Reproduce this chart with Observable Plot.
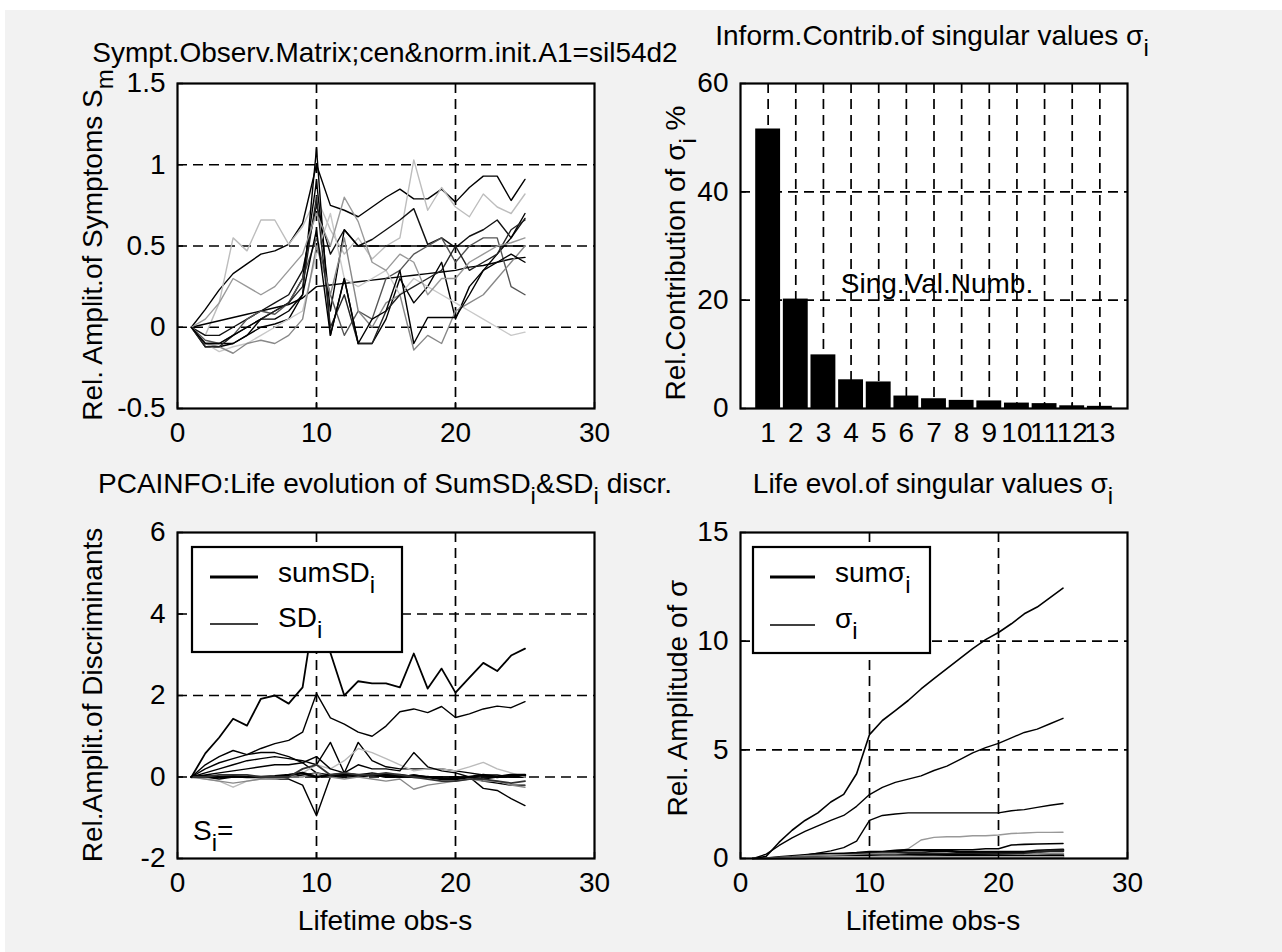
<!DOCTYPE html>
<html><head><meta charset="utf-8">
<script src="https://cdn.jsdelivr.net/npm/d3@7"></script>
<script src="https://cdn.jsdelivr.net/npm/@observablehq/plot@0.6"></script>
<style>
html,body{margin:0;padding:0;background:#fff;}
#fig{position:relative;width:1282px;height:952px;overflow:hidden;}
#bg{position:absolute;left:5px;top:10px;width:1277px;height:942px;background:#f2f2f2;}
#overlay{position:absolute;left:0;top:0;pointer-events:none;}
</style></head><body><div id="fig"><div id="bg"></div></div>
<script>
const FONT = "'Liberation Sans', Arial, Helvetica, sans-serif";
const obs = d3.range(1, 26);

// ---- Panel 1: symptom observation matrix
const sym01 = [0,0.11,0.23,0.33,0.39,0.45,0.47,0.51,0.64,1.0,0.75,0.72,0.68,0.74,0.8,0.85,0.79,0.79,0.85,0.77,0.86,0.93,0.93,0.78,0.91];
const sym02 = [0,-0.05,0.15,0.55,0.47,0.66,0.66,0.51,0.62,0.8,0.6,0.45,0.55,0.42,0.5,0.55,1.03,0.72,0.86,0.74,0.68,0.82,0.74,0.7,0.82];
const sym03 = [0,-0.05,-0.05,0,0.05,0.1,0.15,0.2,0.35,0.75,0.45,0.6,0.5,0.54,0.6,0.66,0.73,0.51,0.55,0.49,0.56,0.6,0.66,0.55,0.67];
const sym04 = [0,-0.1,-0.1,-0.1,-0.05,0.05,0.1,0.15,0.3,0.9,0.1,0.6,0.5,0.5,0.5,0.5,0.5,0.5,0.5,0.5,0.5,0.5,0.5,0.5,0.5];
const sym05 = [0,0.02,0.04,0.06,0.08,0.1,0.12,0.14,0.18,0.25,0.26,0.27,0.28,0.29,0.3,0.31,0.32,0.33,0.34,0.35,0.37,0.38,0.4,0.42,0.43];
const sym06 = [0,-0.12,-0.12,-0.1,-0.05,0,0.02,0.05,0.2,1.1,-0.05,0.3,-0.1,-0.1,0.05,0.3,0.15,0.25,0.4,0.05,0.25,0.35,0.45,0.55,0.7];
const sym07 = [0,-0.08,-0.1,-0.05,0.05,0.1,0.08,0.15,0.3,0.55,0.2,-0.05,0.1,0.05,0.3,0.35,0.45,0.5,0.55,0.4,0.5,0.55,0.55,0.25,0.2];
const sym08 = [0,-0.1,-0.15,-0.12,-0.1,-0.05,0,0.05,0.1,0.45,0.7,0.3,0.25,0.3,0.35,0.2,0.3,0.25,0.2,0.15,0.1,0.05,0,-0.05,-0.03];
const sym09 = [0,-0.1,-0.12,-0.16,-0.1,-0.08,-0.1,-0.05,0.05,0.5,0.2,0.55,0.1,0,0.15,0.2,-0.14,-0.05,-0.1,0.1,0.15,0.2,0.3,0.4,0.5];
const sym10 = [0,-0.12,-0.12,-0.05,0,0.05,0.1,0.15,0.25,0.8,0,0.2,-0.1,-0.1,0.1,0.2,0.25,0.3,0.35,0.5,0.35,0.4,0.45,0.6,0.66];
const sym11 = [0,0.05,0.15,0.3,0.25,0.2,0.25,0.35,0.45,0.7,0.5,0.8,0.65,0.4,0.35,0.45,0.4,0.2,0.3,0.3,0.4,0.45,0.5,0.52,0.55];
const sym12 = [0,-0.1,-0.1,-0.05,0,0.05,0.05,0.1,0.2,0.6,-0.05,0.3,-0.1,0.05,0.1,0.35,-0.1,0.06,0.06,0.06,0.2,0.35,0.4,0.45,0.4];
const symptoms = [sym01,sym02,sym03,sym04,sym05,sym06,sym07,sym08,sym09,sym10,sym11,sym12];
const symStroke = ["#000","#bdbdbd","#111","#000","#000","#000","#555","#c8c8c8","#888","#222","#999","#000"];

// ---- Panel 2: contribution of singular values (%)
const svNumber = d3.range(1, 14);
const svContribution = [51.6,20.2,9.9,5.3,4.9,2.3,1.8,1.5,1.4,1.0,0.9,0.5,0.4];

// ---- Panel 3: discriminants
const sumSD = [0,0.58,0.97,1.43,1.26,1.92,2.0,1.8,2.2,4.4,3.05,2.0,2.35,2.3,2.3,2.2,3.03,2.17,2.66,2.07,2.44,2.8,2.6,2.98,3.15];
const sd01 = [0,0.2,0.35,0.45,0.55,0.7,0.82,0.9,1.1,2.05,1.45,1.3,1.1,1.0,1.25,1.6,1.67,1.58,1.73,1.46,1.55,1.67,1.74,1.7,1.85];
const sd02 = [0,0.3,0.5,0.65,0.55,0.6,0.6,0.5,0.35,0.1,0,0.05,0,0.05,0,0,0.05,0,0,0,0,0,0,0,0];
const sd03 = [0,0.1,0.2,0.3,0.4,0.45,0.5,0.45,0.4,0.3,0.85,0.1,0.85,0.4,0.25,0.2,0.2,0.2,0.2,0.15,0.1,0.05,0.05,0,0];
const sd04 = [0,0,-0.05,0,0,0,-0.05,-0.05,-0.2,-0.95,0,0,0,0.05,0,0,0,0,0,0,0,-0.05,0,0,0];
const sd05 = [0,0,0,0,0,0,0,0,0.05,0.1,0.05,0.1,0.05,0.1,0.05,0,0.05,0,-0.05,-0.05,0,-0.28,-0.33,-0.53,-0.7];
const sd06 = [0,-0.05,-0.1,-0.25,-0.1,-0.05,-0.05,0,0.1,0.3,0.2,0.4,0.7,0.6,0.45,0.3,0.15,0.2,0.2,0.15,0.25,0.36,0.2,0.1,0];
const sd07 = [0,0.05,0.1,0.15,0.2,0.25,0.3,0.3,0.35,0.5,0.2,0.1,0.3,0.2,0.2,0.15,0.6,0.25,0.15,0.1,0,-0.1,-0.15,-0.2,-0.2];
const sd08 = [0,-0.05,-0.1,-0.15,-0.1,-0.05,-0.05,0,0,0.1,0,-0.05,0,-0.05,-0.1,-0.05,-0.3,-0.2,-0.15,-0.1,-0.05,-0.1,-0.1,-0.2,-0.25];
const sd09 = [0,0.02,0,0.02,0,0,0.02,0.05,0.1,0,0.05,0.05,0.05,0.05,0.05,0.05,0,0,-0.05,-0.05,0,0.05,0,0.05,0.05];
const sd10 = [0,0,0.05,0.05,0.05,0,0,0,0.2,0.3,0.05,0.1,0.05,0.05,0.1,0.05,0,-0.05,-0.1,-0.1,-0.05,-0.05,-0.1,-0.15,-0.1];
const discr = [sd01,sd02,sd03,sd04,sd05,sd06,sd07,sd08,sd09,sd10];
const discrStroke = ["#000","#000","#000","#000","#000","#bbb","#000","#888","#000","#333"];
const discrWidth = [1.4,1.4,1.4,1.4,1.4,1.4,1.4,1.4,2.6,1.8];

// ---- Panel 4: singular values
const sumSigma = [0,0.1,0.75,1.3,1.75,2.1,2.6,2.95,3.9,5.7,6.35,6.8,7.27,7.8,8.28,8.74,9.2,9.66,10.07,10.4,10.8,11.26,11.57,12.0,12.44];
const sigma01 = [0,0.2,0.6,0.95,1.25,1.5,1.75,1.98,2.4,2.94,3.27,3.5,3.65,3.8,4.05,4.25,4.55,4.86,5.1,5.3,5.55,5.8,5.95,6.2,6.45];
const sigma02 = [0,0.02,0.05,0.1,0.15,0.25,0.35,0.5,0.8,1.75,1.98,2.05,2.1,2.1,2.1,2.1,2.1,2.1,2.1,2.1,2.2,2.25,2.35,2.45,2.53];
const sigma03 = [0,0.02,0.05,0.08,0.1,0.12,0.12,0.15,0.15,0.2,0.25,0.3,0.45,0.85,0.97,1.0,1.0,1.05,1.05,1.08,1.15,1.17,1.2,1.2,1.21];
const sigma04 = [0,0.01,0.03,0.05,0.08,0.1,0.12,0.15,0.2,0.25,0.3,0.35,0.4,0.4,0.4,0.4,0.4,0.4,0.45,0.45,0.62,0.65,0.67,0.68,0.69];
const sigma05 = [0,0,0.05,0.1,0.15,0.2,0.2,0.22,0.25,0.3,0.3,0.35,0.38,0.38,0.35,0.35,0.3,0.3,0.3,0.3,0.3,0.3,0.35,0.38,0.4];
const sigma06 = [0,0.01,0.02,0.05,0.08,0.1,0.12,0.15,0.2,0.22,0.25,0.25,0.25,0.25,0.22,0.2,0.2,0.2,0.2,0.2,0.2,0.22,0.3,0.35,0.35];
const sigma07 = [0,0,0.02,0.05,0.1,0.12,0.15,0.15,0.15,0.18,0.2,0.2,0.15,0.1,0.1,0.1,0.1,0.1,0.1,0.12,0.12,0.15,0.2,0.2,0.2];
const sigma08 = [0,0,0.01,0.02,0.03,0.05,0.05,0.08,0.1,0.12,0.12,0.12,0.15,0.15,0.15,0.15,0.15,0.15,0.12,0.12,0.1,0.1,0.1,0.12,0.12];
const sigma09 = [0,0,0,0.01,0.02,0.03,0.04,0.05,0.05,0.06,0.08,0.08,0.08,0.07,0.07,0.06,0.06,0.06,0.05,0.05,0.05,0.05,0.06,0.06,0.06];
const sigmas = [sigma01,sigma02,sigma03,sigma04,sigma05,sigma06,sigma07,sigma08,sigma09];
const sigmaStroke = ["#000","#000","#999","#000","#000","#222","#888","#000","#aaa"];
const sigmaWidth = [1.4,1.4,1.4,1.6,2.6,2.6,2.6,2.6,2.6];

// ---- Tick values
const ticksLife = [0, 10, 20, 30];
const ticksP1y = [-0.5, 0, 0.5, 1, 1.5];
const ticksP2y = [0, 20, 40, 60];
const ticksP3y = [-2, 0, 2, 4, 6];
const ticksP4y = [0, 5, 10, 15];

const fig = document.getElementById("fig");
const series = vals => obs.map((x, i) => ({x, y: vals[i]}));
const gridStyle = {stroke: "black", strokeOpacity: 1, strokeWidth: 1.7, strokeDasharray: "10,6"};

function panel({left, top, width, height, margins, xDomain, yDomain, xTicks, yTicks, gx, gy, marks}) {
  const chart = Plot.plot({
    width, height, ...margins,
    x: {domain: xDomain}, y: {domain: yDomain},
    style: {background: "transparent", overflow: "visible", fontFamily: FONT, fontSize: "28px", color: "black"},
    marks: [
      Plot.frame({fill: "white", stroke: "none"}),
      Plot.gridX(gx, gridStyle),
      Plot.gridY(gy, gridStyle),
      ...marks,
      Plot.axisX(xTicks, {tickSize: -6, tickPadding: 20, tickFormat: d => String(d), label: null, strokeWidth: 1.5}),
      Plot.axisY(yTicks, {tickSize: -6, tickPadding: 18, tickFormat: d => String(d), label: null, strokeWidth: 1.5}),
      Plot.frame({stroke: "black", strokeWidth: 2.2, fill: "none"})
    ]
  });
  chart.style.position = "absolute";
  chart.style.left = left + "px";
  chart.style.top = top + "px";
  chart.style.maxWidth = "none";
  fig.append(chart);
}

// Panel 1
panel({left: 0, top: 0, width: 640, height: 470,
  margins: {marginLeft: 177, marginTop: 83, marginRight: 46, marginBottom: 62},
  xDomain: [0, 30], yDomain: [-0.5, 1.5], xTicks: ticksLife, yTicks: ticksP1y,
  gx: [10, 20], gy: [0, 0.5, 1],
  marks: symptoms.map((v, k) => Plot.line(series(v), {x: "x", y: "y", stroke: symStroke[k], strokeWidth: 1.4}))
});

// Panel 2
const bars = svNumber.map((k, i) => ({k, v: svContribution[i]}));
panel({left: 640, top: 0, width: 642, height: 470,
  margins: {marginLeft: 100, marginTop: 83, marginRight: 155, marginBottom: 62},
  xDomain: [0, 14], yDomain: [0, 60], xTicks: svNumber, yTicks: ticksP2y,
  gx: svNumber, gy: [20, 40],
  marks: [Plot.rectY(bars, {x1: d => d.k - 0.45, x2: d => d.k + 0.45, y: "v", fill: "black"})]
});

// Panel 3
panel({left: 0, top: 470, width: 640, height: 470,
  margins: {marginLeft: 177, marginTop: 62, marginRight: 46, marginBottom: 82},
  xDomain: [0, 30], yDomain: [-2, 6], xTicks: ticksLife, yTicks: ticksP3y,
  gx: [10, 20], gy: [0, 2, 4],
  marks: [
    ...discr.map((v, k) => Plot.line(series(v), {x: "x", y: "y", stroke: discrStroke[k], strokeWidth: discrWidth[k]})),
    Plot.line(series(sumSD), {x: "x", y: "y", stroke: "black", strokeWidth: 1.8})
  ]
});

// Panel 4
panel({left: 640, top: 470, width: 642, height: 470,
  margins: {marginLeft: 100, marginTop: 62, marginRight: 155, marginBottom: 82},
  xDomain: [0, 30], yDomain: [0, 15], xTicks: ticksLife, yTicks: ticksP4y,
  gx: [10, 20], gy: [5, 10],
  marks: [
    ...sigmas.map((v, k) => Plot.line(series(v), {x: "x", y: "y", stroke: sigmaStroke[k], strokeWidth: sigmaWidth[k]})),
    Plot.line(series(sumSigma), {x: "x", y: "y", stroke: "black", strokeWidth: 1.6})
  ]
});

// ---- Overlay: titles, axis labels, legends
const ov = d3.select(fig).append("svg").attr("id", "overlay").attr("width", 1282).attr("height", 952)
  .style("font-family", FONT).style("font-size", "28px");

function label(x, y, parts, {anchor = "middle", rotate = 0} = {}) {
  const t = ov.append("text").attr("x", x).attr("y", y).attr("text-anchor", anchor)
    .attr("fill", "black").style("white-space", "pre");
  if (rotate) t.attr("transform", `rotate(${rotate},${x},${y})`);
  let shifted = false;
  for (const p of parts) {
    const sub = typeof p !== "string";
    const ts = t.append("tspan").text(sub ? p.sub : p);
    if (sub) { ts.attr("font-size", "24px"); if (!shifted) { ts.attr("dy", 11); shifted = true; } }
    else if (shifted) { ts.attr("dy", -11); shifted = false; }
  }
}

// titles
label(385, 62, ["Sympt.Observ.Matrix;cen&norm.init.A1=sil54d2"]);
label(932, 45, ["Inform.Contrib.of singular values σ", {sub: "i"}]);
label(385, 493, ["PCAINFO:Life evolution of SumSD", {sub: "i"}, "&SD", {sub: "i"}, " discr."]);
label(933, 493, ["Life evol.of singular values σ", {sub: "i"}]);

// y labels
label(102, 245, ["Rel. Amplit.of Symptoms S", {sub: "m"}], {rotate: -90});
label(685, 253, ["Rel.Contribution of σ", {sub: "i"}, " %"], {rotate: -90});
label(102, 695, ["Rel.Amplit.of Discriminants"], {rotate: -90});
label(687, 698, ["Rel. Amplitude of σ"], {rotate: -90});

// x labels
label(385, 930, ["Lifetime obs-s"]);
label(933, 930, ["Lifetime obs-s"]);
label(937, 293, ["Sing.Val.Numb."]);

// S_i= in panel 3
label(193, 840, ["S", {sub: "i"}, "="], {anchor: "start"});

// legends
function legend(x, y, w, h, lineX1, lineX2, textX, rows) {
  ov.append("rect").attr("x", x).attr("y", y).attr("width", w).attr("height", h)
    .attr("fill", "white").attr("stroke", "black").attr("stroke-width", 2.2);
  for (const r of rows) {
    ov.append("line").attr("x1", lineX1).attr("x2", lineX2).attr("y1", r.ly).attr("y2", r.ly)
      .attr("stroke", "black").attr("stroke-width", r.w);
    label(textX, r.ty, r.parts, {anchor: "start"});
  }
}
legend(192, 547, 210, 105, 210, 258, 278, [
  {ly: 577, ty: 582, w: 2.8, parts: ["sumSD", {sub: "i"}]},
  {ly: 624, ty: 627, w: 1.4, parts: ["SD", {sub: "i"}]}
]);
legend(753, 547, 177, 106, 770, 815, 835, [
  {ly: 577, ty: 582, w: 2.8, parts: ["sumσ", {sub: "i"}]},
  {ly: 625, ty: 628, w: 1.4, parts: ["σ", {sub: "i"}]}
]);
</script></body></html>
